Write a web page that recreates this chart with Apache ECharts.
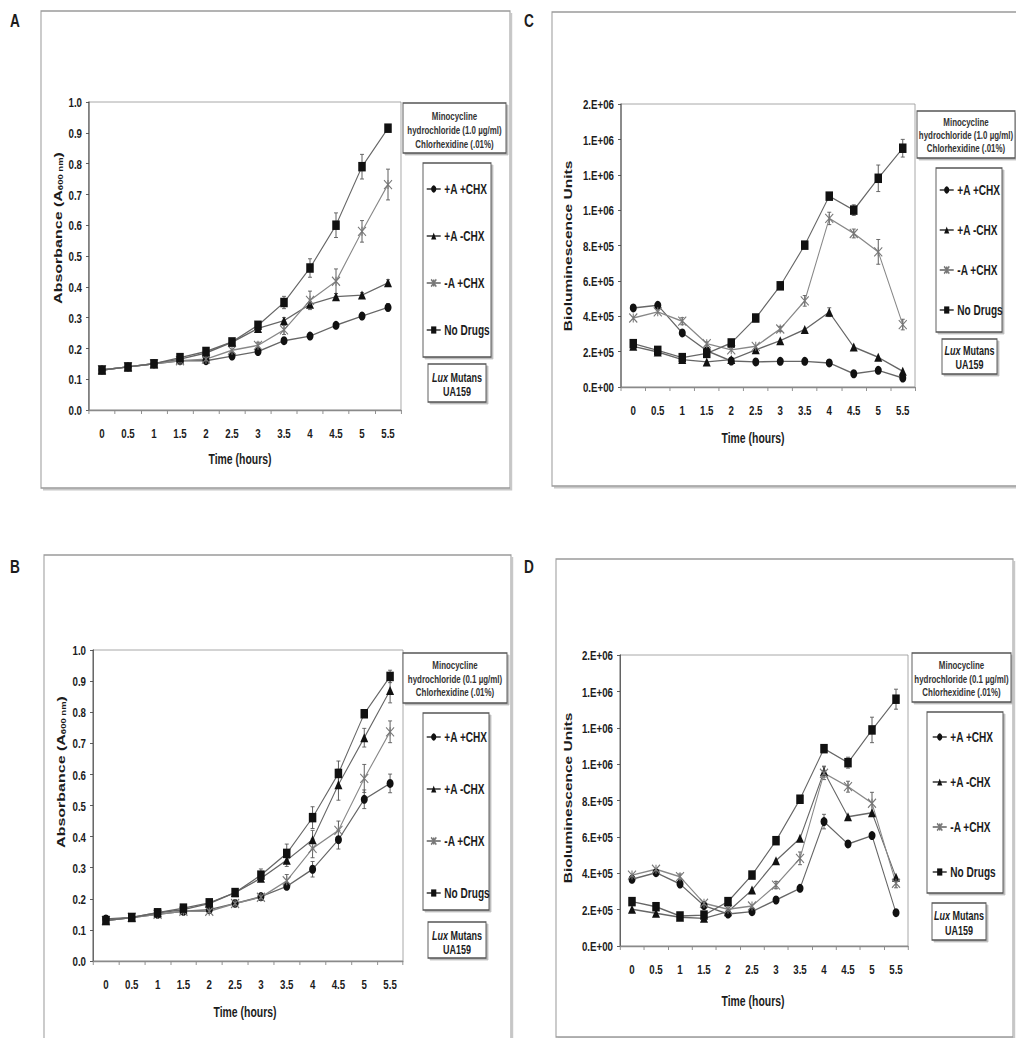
<!DOCTYPE html>
<html><head><meta charset="utf-8">
<script src="https://cdn.jsdelivr.net/npm/echarts@6/dist/echarts.min.js"></script>
<style>
html,body{margin:0;padding:0;background:#fff;overflow:hidden;width:1016px;height:1038px}
#c{width:1411px;height:1038px;transform:scaleX(0.72);transform-origin:0 0}
</style>
</head><body><div id="c"></div><script>
// ---- categories / labels ----
const hours = ['0','0.5','1','1.5','2','2.5','3','3.5','4','4.5','5','5.5'];
const seriesNames = ['+A +CHX','+A -CHX','-A +CHX','No Drugs'];

// ---- Panel A (Absorbance, minocycline 1.0 ug/ml) ----
const aCircle   = [0.13,0.14,0.15,0.16,0.16,0.175,0.19,0.225,0.24,0.275,0.305,0.333];
const aTriangle = [0.13,0.14,0.15,0.165,0.185,0.22,0.265,0.29,0.343,0.368,0.373,0.413];
const aStar     = [0.13,0.14,0.15,0.16,0.165,0.194,0.21,0.26,0.356,0.418,0.58,0.732];
const aSquare   = [0.13,0.14,0.15,0.17,0.19,0.221,0.275,0.349,0.461,0.60,0.79,0.915];
const aCircleErr   = [0,0,0,0,0,0,0.005,0.008,0.008,0.008,0.01,0.012];
const aTriangleErr = [0,0,0,0,0,0,0.01,0.01,0.01,0.01,0.008,0.01];
const aStarErr     = [0,0,0,0,0,0,0.01,0.015,0.03,0.04,0.035,0.05];
const aSquareErr   = [0,0,0,0,0,0.005,0.01,0.02,0.03,0.04,0.04,0.01];

// ---- Panel B (Absorbance, minocycline 0.1 ug/ml) ----
const bCircle   = [0.135,0.14,0.15,0.16,0.165,0.185,0.207,0.24,0.295,0.39,0.52,0.571];
const bTriangle = [0.13,0.14,0.155,0.165,0.185,0.22,0.266,0.324,0.39,0.567,0.718,0.87];
const bStar     = [0.13,0.14,0.15,0.16,0.16,0.185,0.205,0.258,0.362,0.42,0.587,0.737];
const bSquare   = [0.13,0.14,0.155,0.17,0.187,0.22,0.276,0.346,0.461,0.603,0.795,0.915];
const bCircleErr   = [0,0,0,0,0,0,0.01,0.01,0.025,0.03,0.03,0.03];
const bTriangleErr = [0,0,0,0,0,0,0.01,0.02,0.03,0.05,0.03,0.04];
const bStarErr     = [0,0,0,0,0,0,0.01,0.02,0.03,0.03,0.045,0.035];
const bSquareErr   = [0,0,0,0,0,0.01,0.02,0.03,0.035,0.04,0.005,0.02];

// ---- Panel C (Bioluminescence, minocycline 1.0 ug/ml) ----
const cCircle   = [447000,462000,306000,205000,147000,142000,145000,145000,136000,75000,94000,51000];
const cTriangle = [230000,198000,155000,142000,155000,210000,262000,325000,423000,226000,168000,89000];
const cStar     = [390000,425000,372000,245000,210000,230000,328000,487000,953000,868000,764000,353000];
const cSquare   = [245000,207000,166000,190000,249000,390000,572000,802000,1079000,1000000,1180000,1350000];
const cCircleErr   = [0,0,0,0,0,0,0,0,10000,0,0,0];
const cTriangleErr = [0,0,0,0,0,0,0,0,25000,0,0,0];
const cStarErr     = [0,0,20000,10000,0,0,15000,30000,35000,25000,70000,30000];
const cSquareErr   = [0,0,0,0,0,0,0,0,15000,30000,75000,50000];

// ---- Panel D (Bioluminescence, minocycline 0.1 ug/ml) ----
const dCircle   = [367000,403000,341000,222000,176000,189000,253000,317000,684000,561000,607000,183000];
const dTriangle = [202000,180000,158000,152000,189000,308000,469000,592000,959000,711000,733000,378000];
const dStar     = [390000,422000,381000,235000,202000,220000,335000,482000,950000,876000,785000,345000];
const dSquare   = [244000,216000,165000,170000,244000,390000,579000,807000,1085000,1008000,1188000,1357000];
const dCircleErr   = [0,0,0,0,0,0,0,0,40000,0,0,0];
const dTriangleErr = [0,0,0,0,0,0,0,0,30000,0,0,0];
const dStarErr     = [0,0,15000,10000,0,0,20000,35000,35000,30000,60000,25000];
const dSquareErr   = [0,0,0,0,0,0,0,0,20000,30000,70000,55000];

// ---- rendering (figure is horizontally condensed like the original scan) ----
const S = 0.72;                 // horizontal condensation of the page
const X = v => v / S;           // page px -> chart px (horizontal only)
const FONT = "'Liberation Sans',Arial,sans-serif";
const TXT = '#1c1c1c';
const fmtAbs = v => v.toFixed(1);
function fmtSci(v){
  if (v === 0) return '0.E+00';
  let e = Math.floor(Math.log10(v) + 1e-9);
  let m = Math.round(v / Math.pow(10, e));
  if (m >= 10) { m = 1; e++; }
  return m + '.E+' + String(e).padStart(2, '0');
}
const starPath = 'path://M0,0L10,10M10,0L0,10M5,0L5,10';
const markStyles = [
  {symbol:'circle',   size:[X(7),9], color:'#111', line:'#666'},
  {symbol:'triangle', size:[X(8),9], color:'#111', line:'#666'},
  {symbol:starPath,   size:[X(8),9], color:'#777', line:'#888'},
  {symbol:'rect',     size:[X(7.5),9.5], color:'#111', line:'#666'}
];

const panels = [
  {grid:{left:X(89), top:102, width:X(312), height:308}, y:[0,1,0.1], fmt:fmtAbs,
   vals:[aCircle,aTriangle,aStar,aSquare], errs:[aCircleErr,aTriangleErr,aStarErr,aSquareErr],
   legend:{left:X(423), top:163, padding:[19,X(3),20,X(3)], itemGap:33}},
  {grid:{left:X(93), top:650, width:X(310), height:311}, y:[0,1,0.1], fmt:fmtAbs,
   vals:[bCircle,bTriangle,bStar,bSquare], errs:[bCircleErr,bTriangleErr,bStarErr,bSquareErr],
   legend:{left:X(423), top:713, padding:[17,X(3),10,X(3)], itemGap:38}},
  {grid:{left:X(621), top:104, width:X(294), height:283}, y:[0,1600000,200000], fmt:fmtSci,
   vals:[cCircle,cTriangle,cStar,cSquare], errs:[cCircleErr,cTriangleErr,cStarErr,cSquareErr],
   legend:{left:X(936), top:168, padding:[15,X(3),15,X(3)], itemGap:26}},
  {grid:{left:X(620), top:655, width:X(288), height:291}, y:[0,1600000,200000], fmt:fmtSci,
   vals:[dCircle,dTriangle,dStar,dSquare], errs:[dCircleErr,dTriangleErr,dStarErr,dSquareErr],
   legend:{left:X(927), top:712, padding:[18,X(5),13,X(5)], itemGap:31}}
];

function errRender(params, api){
  const e = api.value(2);
  if (!e) return null;
  const x = api.value(0), y = api.value(1);
  const lo = api.coord([x, y - e]), hi = api.coord([x, y + e]);
  const w = X(2), st = {stroke:'#555', lineWidth:1};
  return {type:'group', children:[
    {type:'line', shape:{x1:lo[0], y1:lo[1], x2:hi[0], y2:hi[1]}, style:{stroke:'#555', lineWidth:1.3}},
    {type:'line', shape:{x1:lo[0]-w, y1:lo[1], x2:lo[0]+w, y2:lo[1]}, style:st},
    {type:'line', shape:{x1:hi[0]-w, y1:hi[1], x2:hi[0]+w, y2:hi[1]}, style:st}
  ]};
}

const grids = [], xAxes = [], yAxes = [], series = [], legends = [];
panels.forEach((p, gi) => {
  grids.push(Object.assign({show:true, borderColor:'#9a9a9a', borderWidth:1, backgroundColor:'transparent'}, p.grid));
  xAxes.push({type:'category', gridIndex:gi, data:hours, boundaryGap:true,
    axisLine:{lineStyle:{color:'#8a8a8a', width:1.3}},
    axisTick:{show:true, alignWithLabel:false, length:4, lineStyle:{color:'#8a8a8a', width:1.3}},
    axisLabel:{interval:0, margin:16, color:TXT, fontSize:13.5, fontWeight:'bold', fontFamily:FONT},
    splitLine:{show:false}});
  yAxes.push({type:'value', gridIndex:gi, min:p.y[0], max:p.y[1], interval:p.y[2],
    axisLine:{show:true, lineStyle:{color:'#444', width:1.4}},
    axisTick:{show:true, length:X(3), lineStyle:{color:'#444'}},
    axisLabel:{margin:X(7), color:TXT, fontSize:13.5, fontWeight:'bold', fontFamily:FONT, formatter:p.fmt},
    splitLine:{show:false}});
  p.vals.forEach((vals, si) => {
    const ms = markStyles[si];
    series.push({type:'custom', name:'err'+gi+si, xAxisIndex:gi, yAxisIndex:gi, z:1,
      renderItem:errRender, encode:{x:0, y:1}, silent:true,
      data: vals.map((v, i) => [i, v, p.errs[si][i]])});
    series.push({type:'line', name:seriesNames[si], xAxisIndex:gi, yAxisIndex:gi, z:3,
      data: vals, symbol:ms.symbol, symbolSize:ms.size, showAllSymbol:true,
      lineStyle:{color:ms.line, width:1.4},
      itemStyle:{color:ms.color, borderColor:ms.color, borderWidth: si===2 ? 1.3 : 0},
      animation:false});
  });
  legends.push(Object.assign({orient:'vertical', data:seriesNames, z:10,
    itemWidth:X(14), itemHeight:9, selectedMode:false,
    textStyle:{color:TXT, fontSize:14, fontWeight:'bold', fontFamily:FONT, lineHeight:14}}, p.legend));
});

// ---- decorations ----
const G = [];
function shadowed(x, y, w, h, fill, z){
  G.push({type:'rect', z:z, silent:true, shape:{x:X(x+2), y:y+2, width:X(w), height:h}, style:{fill:'#b8b8b8', stroke:'#c4c4c4', lineWidth:1}});
  G.push({type:'rect', z:z, silent:true, shape:{x:X(x), y:y, width:X(w), height:h}, style:{fill:fill, stroke:'#555', lineWidth:1.3}});
}
function txt(x, y, text, size, fill){
  G.push({type:'text', z:20, x:X(x), y:y, silent:true,
    style:{text:text, fill:fill || TXT, fontSize:size, fontWeight:'bold', fontFamily:FONT,
      align:'center', verticalAlign:'middle', textAlign:'center', textVerticalAlign:'middle'}});
}
// panel frames
[[41,11,469,477],[552,12,470,474],[44,555,467,490],[556,559,457,478]].forEach(f => {
  G.push({type:'polyline', z:0, silent:true, shape:{points:[[X(f[0]+f[2]+1.5), f[1]+2],[X(f[0]+f[2]+1.5), f[1]+f[3]+1.5],[X(f[0]+2), f[1]+f[3]+1.5]]}, style:{fill:'none', stroke:'#c8c8c8', lineWidth:2}});
  G.push({type:'rect', z:0, silent:true, shape:{x:X(f[0]), y:f[1], width:X(f[2]), height:f[3]}, style:{fill:'none', stroke:'#9a9a9a', lineWidth:1.4}});
});
// panel letters
[['A',15,21],['C',529,21],['B',15,567],['D',529,567]].forEach(l => txt(l[1], l[2], l[0], 19));
// axis titles
[[240,459],[245,1012],[753,438],[753,1001]].forEach(t => txt(t[0], t[1], 'Time (hours)', 14.5));
const absRich = {a:{fontSize:16, fontWeight:'bold', fontFamily:FONT, fill:TXT, lineHeight:18, verticalAlign:'middle'},
                 s:{fontSize:9.5, fontWeight:'bold', fontFamily:FONT, fill:TXT, lineHeight:9, verticalAlign:'bottom'}};
[[58,228],[61,772]].forEach(t => G.push({type:'text', z:20, x:X(t[0]), y:t[1], rotation:Math.PI/2, silent:true,
  style:{text:'{a|Absorbance (A}{s|600 nm}{a|)}', rich:absRich, align:'center', verticalAlign:'middle', textAlign:'center', textVerticalAlign:'middle'}}));
[[568,246],[568,798]].forEach(t => G.push({type:'text', z:20, x:X(t[0]), y:t[1], rotation:Math.PI/2, silent:true,
  style:{text:'Bioluminescence Units', fill:TXT, fontSize:15.5, fontWeight:'bold', fontFamily:FONT, align:'center', verticalAlign:'middle', textAlign:'center', textVerticalAlign:'middle'}}));
// treatment title boxes
[[403,103,103,50,[116,130,144],'1.0'],[403,653,104,50,[665,679,692],'0.1'],
 [917,111,98,47,[122,135,148],'1.0'],[912,653,99,49,[665,679,692],'0.1']].forEach(b => {
  shadowed(b[0], b[1], b[2], b[3], '#fff', 5);
  const cx = b[0] + b[2]/2;
  txt(cx, b[4][0], 'Minocycline', 11, '#333');
  txt(cx, b[4][1], 'hydrochloride (' + b[5] + ' µg/ml)', 11, '#333');
  txt(cx, b[4][2], 'Chlorhexidine (.01%)', 11, '#333');
});
// legend boxes
[[423,163,68,194],[423,713,66,197],[936,168,66,164],[927,712,76,181]].forEach(b => shadowed(b[0], b[1], b[2], b[3], '#fff', 5));
// strain boxes
[[428,364,58,38,[377,391]],[428,922,58,36,[935,949]],[942,339,55,35,[350,364]],[932,903,54,37,[915,930]]].forEach(b => {
  shadowed(b[0], b[1], b[2], b[3], '#fff', 5);
  const cx = b[0] + b[2]/2;
  G.push({type:'text', z:20, x:X(cx), y:b[4][0], silent:true, style:{text:'{i|Lux}{n| Mutans}',
    rich:{i:{fontStyle:'italic', fontWeight:'bold', fontSize:12.5, fontFamily:FONT, fill:TXT}, n:{fontWeight:'bold', fontSize:12.5, fontFamily:FONT, fill:TXT}},
    align:'center', verticalAlign:'middle', textAlign:'center', textVerticalAlign:'middle'}});
  txt(cx, b[4][1], 'UA159', 12.5);
});

const chart = echarts.init(document.getElementById('c'), null, {renderer:'svg', width:1411, height:1038});
chart.setOption({
  animation:false,
  backgroundColor:'#fff',
  grid:grids, xAxis:xAxes, yAxis:yAxes, series:series, legend:legends,
  graphic:{elements:G}
});
</script></body></html>
